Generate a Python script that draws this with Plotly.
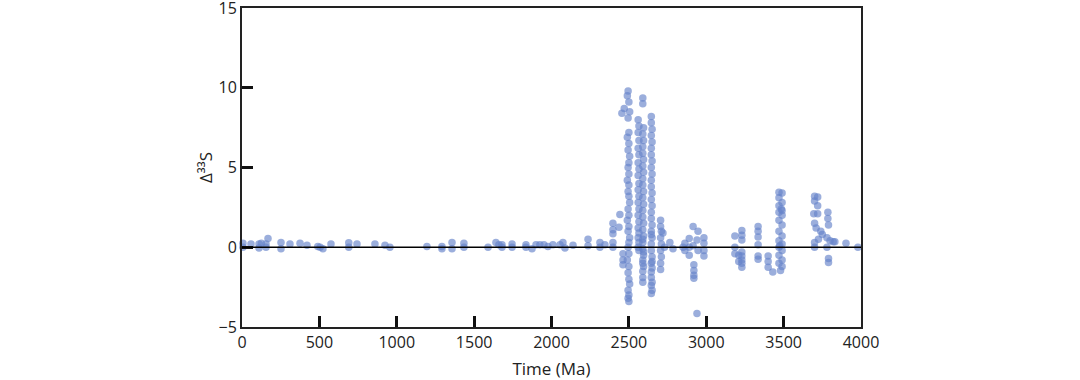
import plotly.graph_objects as go

# Phanerozoic / Proterozoic near-zero values
young_age = [6, 6, 58, 110, 110, 125, 155, 155, 168, 252, 252, 310, 375, 420, 490, 505, 523, 575,
             690, 690, 743, 859, 924, 956, 1195, 1292, 1292, 1357, 1357, 1434, 1434, 1590, 1641,
             1660, 1680, 1680, 1745, 1745, 1835, 1835, 1874, 1900, 1925, 1951, 1977, 2009, 2055,
             2074, 2087, 2139, 2236, 2236, 2313, 2313, 2345]
young_val = [0.25, 0.0, 0.2, 0.2, -0.05, 0.25, 0.2, 0.0, 0.55, 0.3, -0.1, 0.2, 0.25, 0.12, 0.05,
             0.0, -0.1, 0.2, 0.28, 0.0, 0.2, 0.2, 0.12, 0.0, 0.05, 0.05, -0.1, 0.3, -0.1, 0.25, 0.0,
             0.0, 0.3, 0.15, 0.15, 0.0, 0.2, 0.0, 0.15, 0.0, -0.1, 0.15, 0.15, 0.15, 0.05, 0.15,
             0.15, 0.3, -0.05, 0.12, 0.5, 0.1, 0.3, 0.0, 0.15]

# Late Archean (2400-2850)
late_age = [2397, 2397, 2397, 2397, 2397, 2436, 2442, 2455, 2462, 2462, 2462, 2470,
            # column ~2500
            2495, 2490, 2500, 2505, 2495, 2500, 2490, 2500, 2495, 2505, 2500, 2495, 2500, 2490,
            2500, 2495, 2500, 2505, 2495, 2500, 2490, 2500, 2495, 2505, 2500, 2495, 2500, 2490,
            2500, 2495, 2500, 2505, 2495, 2500, 2495, 2500,
            # column ~2560
            2560, 2565, 2560, 2565, 2560, 2565, 2560, 2565, 2560, 2565, 2560, 2565, 2560, 2565,
            2560, 2565, 2560, 2565, 2560, 2565, 2560, 2565,
            # column ~2590
            2590, 2590, 2595, 2590, 2595, 2590, 2590, 2595, 2590, 2595, 2590, 2590, 2595, 2590,
            2595, 2590, 2590, 2595, 2590, 2595, 2590, 2590, 2595, 2590, 2595, 2590, 2590, 2595,
            2590, 2590, 2590,
            # column ~2645
            2645, 2645, 2650, 2645, 2650, 2645, 2645, 2650, 2645, 2650, 2645, 2645, 2650, 2645,
            2650, 2645, 2645, 2650, 2645, 2650, 2645, 2645, 2650, 2645, 2650, 2645, 2645, 2650,
            2645, 2650, 2645, 2645, 2650,
            # column ~2705
            2705, 2705, 2710, 2705, 2710, 2705, 2710, 2705, 2705, 2720, 2730, 2785, 2765, 2850]
late_val = [1.5, 1.1, 0.85, 0.3, 0.0, 1.25, 2.05, 8.4, -0.4, -0.8, -1.1, 8.7,
            9.8, 9.5, 9.1, 8.5, 8.1, 7.2, 6.9, 6.5, 6.1, 5.7, 5.3, 5.0, 4.6, 4.2,
            3.9, 3.5, 3.2, 2.8, 2.4, 2.0, 1.7, 1.3, 1.0, 0.6, 0.3, 0.0, -0.4, -0.8,
            -1.2, -1.6, -2.0, -2.3, -2.7, -3.0, -3.2, -3.4,
            8.0, 7.6, 7.2, 6.7, 6.2, 5.8, 5.3, 4.9, 4.5, 4.0, 3.6, 3.2, 2.8, 2.4,
            2.0, 1.6, 1.2, 0.9, 0.6, 0.3, 0.0, -0.2,
            9.35, 9.0, 7.5, 7.1, 6.7, 6.3, 5.9, 5.5, 5.1, 4.7, 4.3, 3.9, 3.5, 3.1,
            2.7, 2.3, 1.9, 1.5, 1.1, 0.7, 0.3, -0.1, -0.5, -0.8, -1.2, -1.5, -1.9, -0.3,
            -2.2, -1.0, 0.5,
            8.2, 7.8, 7.4, 7.0, 6.6, 6.2, 5.8, 5.4, 5.0, 4.6, 4.2, 3.8, 3.4, 3.0,
            2.6, 2.2, 1.8, 1.4, 1.0, 0.6, 0.2, -0.2, -0.6, -1.0, -1.3, -1.55, -1.9, -2.2,
            -2.4, -2.7, -2.9, 0.8, -0.9,
            1.7, 1.3, 1.0, 0.6, 0.2, -0.2, -0.6, -1.0, -1.4, 0.9, 0.0, -0.1, 0.3, 0.0]

# Mesoarchean and Eoarchean (2850-4000)
old_age = [2862, 2862, 2890, 2890, 2890, 2915, 2915, 2920, 2920, 2920, 2920, 2940, 2947, 2947,
           2985, 2985, 2985, 2985, 2940,
           3185, 3185, 3185, 3210, 3210, 3230, 3230, 3230, 3230, 3230, 3230, 3230, 3230,
           3335, 3335, 3335, 3335, 3335, 3335, 3400, 3400, 3400, 3430,
           3470, 3490, 3470, 3490, 3470, 3490, 3470, 3490, 3470, 3490, 3470, 3490, 3470, 3490,
           3470, 3490, 3470, 3490, 3470, 3490, 3480, 3485, 3475,
           3700, 3720, 3700, 3720, 3695, 3720, 3786, 3786, 3790, 3700, 3710, 3740, 3750, 3725,
           3700, 3700, 3780, 3800, 3820, 3831, 3780, 3790, 3790, 3903, 3980]
old_val = [0.25, -0.2, 0.55, -0.5, 0.0, 1.3, 0.1, -1.1, -1.45, -1.75, -1.95, 0.45, 1.0, -0.2,
           0.6, 0.25, -0.2, -0.55, -4.15,
           0.7, 0.0, -0.4, -0.5, -0.9, 1.05, 0.75, 0.45, -0.3, -0.55, -0.8, -1.0, -1.25,
           1.3, 1.0, 0.65, 0.15, -0.55, -0.75, -0.55, -0.9, -1.25, -1.55,
           3.45, 3.4, 3.1, 2.8, 2.6, 2.3, 2.2, 2.0, 1.7, 1.4, 1.0, 0.7, 0.4, 0.2,
           0.0, -0.2, -0.5, -0.8, -1.0, -1.2, -1.45, 2.4, 0.1,
           3.2, 3.15, 2.9, 2.6, 2.1, 2.1, 2.2, 1.8, 1.4, 1.5, 1.2, 1.0, 0.8, 0.5,
           0.3, 0.0, 0.6, 0.4, 0.35, 0.35, 0.0, -0.7, -0.95, 0.25, 0.0]

ages = young_age + late_age + old_age
vals = young_val + late_val + old_val

fig = go.Figure()
fig.add_trace(go.Scatter(
    x=ages, y=vals, mode="markers",
    marker=dict(size=7.5, color="#6583c9", opacity=0.65, line=dict(width=0)),
    showlegend=False, cliponaxis=False,
))

fig.add_shape(type="line", xref="paper", yref="y", x0=0, x1=1, y0=0, y1=0,
              line=dict(color="black", width=1.5), layer="above")

font_family = "Open Sans, Noto Sans, sans-serif"
fig.update_layout(
    width=1080, height=380,
    margin=dict(l=242, r=219, t=8, b=53),
    paper_bgcolor="white", plot_bgcolor="white",
    font=dict(family=font_family, size=16, color="#222"),
    xaxis=dict(
        range=[0, 4000], tickvals=[0, 500, 1000, 1500, 2000, 2500, 3000, 3500, 4000],
        ticks="inside", ticklen=11, tickwidth=2.5, tickcolor="#111",
        showline=True, linecolor="#222", linewidth=2, mirror=True,
        showgrid=False, zeroline=False, automargin=False,
        ticklabeloverflow="allow",
        title=dict(text="Time (Ma)", font=dict(size=17)),
        tickfont=dict(size=16),
    ),
    yaxis=dict(
        range=[-5, 15], tickvals=[-5, 0, 5, 10, 15],
        ticks="inside", ticklen=11, tickwidth=2.5, tickcolor="#111",
        showline=True, linecolor="#222", linewidth=2, mirror=True,
        showgrid=False, zeroline=False, automargin=False,
        ticklabeloverflow="allow",
        title=dict(text="Δ³³S", font=dict(size=17), standoff=2),
        tickfont=dict(size=16),
    ),
)

fig.write_html("out.html", config={"displayModeBar": False},
               post_script="document.body.style.margin='0';")
